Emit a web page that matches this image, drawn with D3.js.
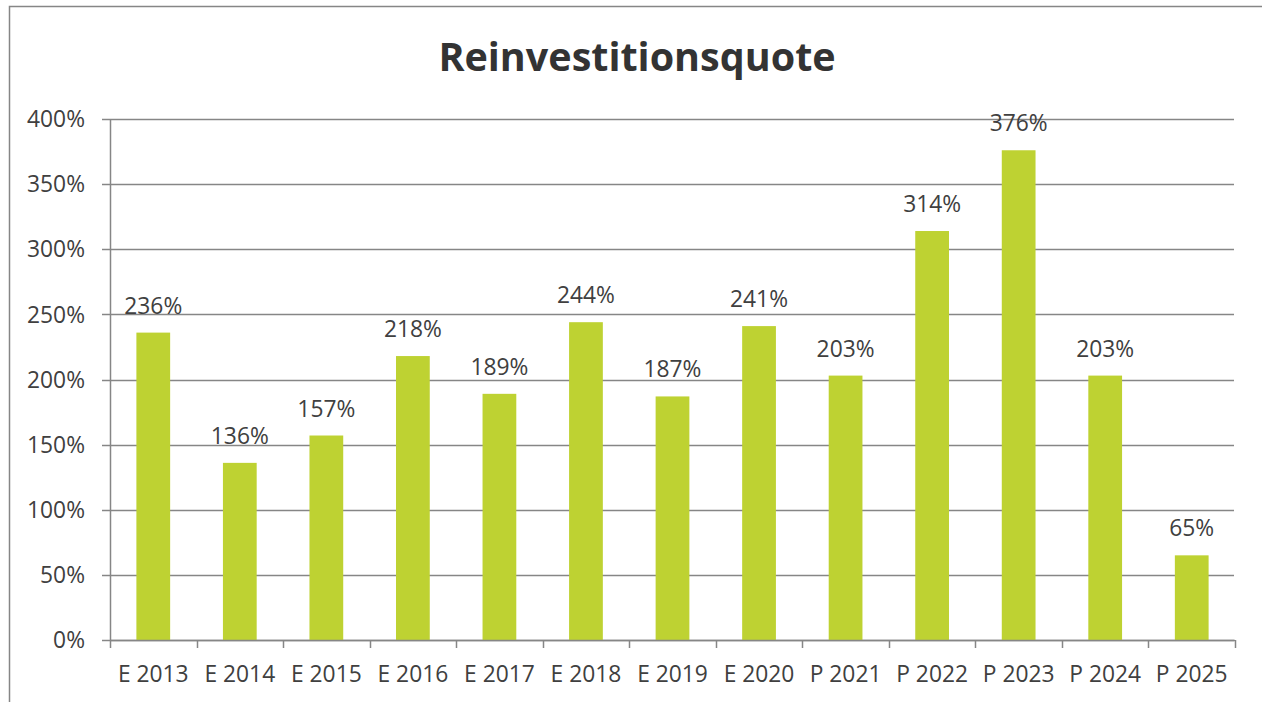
<!DOCTYPE html>
<html>
<head>
<meta charset="utf-8">
<script src="https://cdn.jsdelivr.net/npm/d3@7"></script>
<style>
  body { margin: 0; background: #fff; }
  svg { display: block; font-family: "Open Sans", sans-serif; }
</style>
</head>
<body>
<svg width="1262" height="702"></svg>
<script>
// Daten
const categories = ["E 2013", "E 2014", "E 2015", "E 2016", "E 2017", "E 2018", "E 2019",
                    "E 2020", "P 2021", "P 2022", "P 2023", "P 2024", "P 2025"];
const values = [2.36, 1.36, 1.57, 2.18, 1.89, 2.44, 1.87, 2.41, 2.03, 3.14, 3.76, 2.03, 0.65];
const yTicks = [0, 0.5, 1, 1.5, 2, 2.5, 3, 3.5, 4];

const svg = d3.select("svg");
const textColor = "#404040";
const lineColor = "#868686";
const barColor = "#bed232";

// Rahmen des Diagramms
svg.append("rect")
    .attr("x", 9.5).attr("y", 6.5)
    .attr("width", 1300).attr("height", 760)
    .attr("fill", "none")
    .attr("stroke", lineColor)
    .attr("stroke-width", 1.5);

// Titel
svg.append("text")
    .attr("x", 637).attr("y", 71)
    .attr("text-anchor", "middle")
    .attr("font-size", 39.5)
    .attr("font-weight", "bold")
    .attr("fill", "#333")
    .text("Reinvestitionsquote");

const plotLeft = 110, plotRight = 1235, plotTop = 119, plotBottom = 640;

const x = d3.scaleBand()
    .domain(categories)
    .range([plotLeft, plotRight])
    .paddingInner(0.61)
    .paddingOuter(0.305);

const y = d3.scaleLinear()
    .domain([0, 4])
    .range([plotBottom, plotTop]);

const fmt = d3.format(".0%");
const labelSize = 22.8;

// Gitterlinien
svg.append("g")
    .selectAll("line")
    .data(yTicks)
    .join("line")
    .attr("x1", plotLeft - 8).attr("x2", plotRight - 1)
    .attr("y1", d => Math.round(y(d)) + 0.5)
    .attr("y2", d => Math.round(y(d)) + 0.5)
    .attr("stroke", lineColor)
    .attr("stroke-width", 1.5);

// Y-Achse
svg.append("line")
    .attr("x1", plotLeft + 0.5).attr("x2", plotLeft + 0.5)
    .attr("y1", plotTop).attr("y2", plotBottom)
    .attr("stroke", lineColor)
    .attr("stroke-width", 1.5);

svg.append("g")
    .selectAll("text")
    .data(yTicks)
    .join("text")
    .attr("x", 85)
    .attr("y", d => y(d))
    .attr("dy", "0.36em")
    .attr("text-anchor", "end")
    .attr("font-size", labelSize)
    .attr("fill", textColor)
    .text(d => fmt(d));

// Balken
svg.append("g")
    .selectAll("rect")
    .data(values)
    .join("rect")
    .attr("x", (d, i) => x(categories[i]))
    .attr("y", d => y(d))
    .attr("width", x.bandwidth())
    .attr("height", d => plotBottom - y(d))
    .attr("fill", barColor);

// Datenbeschriftungen
svg.append("g")
    .selectAll("text")
    .data(values)
    .join("text")
    .attr("x", (d, i) => x(categories[i]) + x.bandwidth() / 2)
    .attr("y", d => y(d) - 19)
    .attr("text-anchor", "middle")
    .attr("font-size", labelSize)
    .attr("fill", textColor)
    .text(d => fmt(d));

// X-Achse
svg.append("line")
    .attr("x1", plotLeft).attr("x2", plotRight)
    .attr("y1", plotBottom + 0.5).attr("y2", plotBottom + 0.5)
    .attr("stroke", lineColor)
    .attr("stroke-width", 1.5);

const step = x.step();
svg.append("g")
    .selectAll("line")
    .data(d3.range(categories.length + 1))
    .join("line")
    .attr("x1", i => Math.round(plotLeft + i * step) + 0.5)
    .attr("x2", i => Math.round(plotLeft + i * step) + 0.5)
    .attr("y1", plotBottom).attr("y2", plotBottom + 8)
    .attr("stroke", lineColor)
    .attr("stroke-width", 1.5);

svg.append("g")
    .selectAll("text")
    .data(categories)
    .join("text")
    .attr("x", d => x(d) + x.bandwidth() / 2)
    .attr("y", 682)
    .attr("text-anchor", "middle")
    .attr("font-size", labelSize)
    .attr("fill", textColor)
    .text(d => d);
</script>
</body>
</html>
